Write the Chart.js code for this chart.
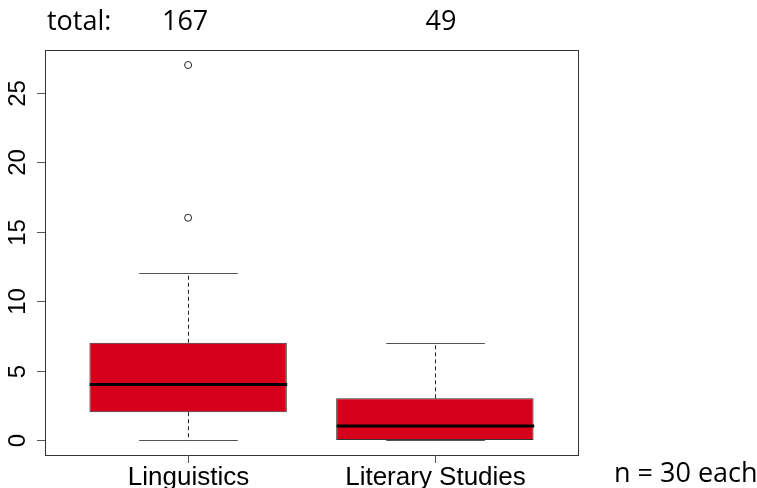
<!DOCTYPE html>
<html>
<head>
<meta charset="utf-8">
<style>
  html, body { margin: 0; padding: 0; background: #fff; }
  #wrap { width: 757px; height: 488px; }
</style>
<script src="https://cdn.jsdelivr.net/npm/chart.js@4.4.0/dist/chart.umd.min.js"></script>
</head>
<body>
<div id="wrap"><canvas id="chart" width="757" height="488"></canvas></div>
<script>
// box plot data, one entry per group
const groups = ['Linguistics', 'Literary Studies'];
const totals = [167, 49];
const whiskerLow = [0, 0];
const q1 = [2, 0];
const median = [4, 1];
const q3 = [7, 3];
const whiskerHigh = [12, 7];
const outliers = [[16, 27], []];
const yTicks = [0, 5, 10, 15, 20, 25];

const boxRed = '#d7001a';
const sansR = '"Liberation Sans", Arial, sans-serif';
const sansTop = '"Open Sans", "Noto Sans", sans-serif';

const boxData = groups.map((g, i) => ({ x: i + 1, y: [q1[i], q3[i]] }));
const outlierData = [];
outliers.forEach((list, i) => list.forEach(v => outlierData.push({ x: i + 1, y: v })));

const boxplotExtras = {
    id: 'boxplotExtras',
    afterDatasetsDraw(chart) {
        const ctx = chart.ctx;
        const xs = chart.scales.x;
        const ys = chart.scales.y;
        const meta = chart.getDatasetMeta(0);
        ctx.save();
        groups.forEach((g, i) => {
            const bar = meta.data[i];
            const cx = Math.round(xs.getPixelForValue(i + 1)) + 0.5;
            const half = bar.width / 2;
            // whiskers (dashed)
            ctx.strokeStyle = '#222';
            ctx.lineWidth = 1;
            ctx.setLineDash([4, 3]);
            ctx.beginPath();
            ctx.moveTo(cx, ys.getPixelForValue(q3[i]));
            ctx.lineTo(cx, ys.getPixelForValue(whiskerHigh[i]));
            ctx.moveTo(cx, ys.getPixelForValue(q1[i]));
            ctx.lineTo(cx, ys.getPixelForValue(whiskerLow[i]));
            ctx.stroke();
            ctx.setLineDash([]);
            // caps
            ctx.strokeStyle = '#555';
            ctx.beginPath();
            [whiskerHigh[i], whiskerLow[i]].forEach(v => {
                const y = Math.round(ys.getPixelForValue(v)) + 0.5;
                ctx.moveTo(cx - half / 2, y);
                ctx.lineTo(cx + half / 2, y);
            });
            ctx.stroke();
            // median
            ctx.strokeStyle = '#000';
            ctx.lineWidth = 3;
            ctx.beginPath();
            const my = ys.getPixelForValue(median[i]);
            ctx.moveTo(cx - half, my);
            ctx.lineTo(cx + half, my);
            ctx.stroke();
        });

        // frame
        const a = chart.chartArea;
        ctx.strokeStyle = '#333';
        ctx.lineWidth = 1;
        ctx.strokeRect(Math.round(a.left) + 0.5, Math.round(a.top) + 0.5,
            Math.round(a.right - a.left), Math.round(a.bottom - a.top));

        // y axis ticks and rotated labels
        ctx.strokeStyle = '#555';
        ctx.fillStyle = '#000';
        ctx.font = '24px ' + sansR;
        ctx.textAlign = 'center';
        ctx.textBaseline = 'alphabetic';
        yTicks.forEach(v => {
            const y = Math.round(ys.getPixelForValue(v)) + 0.5;
            ctx.beginPath();
            ctx.moveTo(a.left - 8, y);
            ctx.lineTo(a.left, y);
            ctx.stroke();
            ctx.save();
            ctx.translate(25, y);
            ctx.rotate(-Math.PI / 2);
            ctx.fillText(String(v), 0, 0);
            ctx.restore();
        });

        // x axis ticks and labels
        ctx.font = '26px ' + sansR;
        groups.forEach((g, i) => {
            const x = Math.round(xs.getPixelForValue(i + 1)) + 0.5;
            ctx.beginPath();
            ctx.moveTo(x, a.bottom);
            ctx.lineTo(x, a.bottom + 8);
            ctx.stroke();
            ctx.fillText(g, x, 485);
        });

        // annotations
        ctx.font = '27px ' + sansTop;
        ctx.textAlign = 'left';
        ctx.fillText('total:', 47, 30);
        ctx.textAlign = 'center';
        totals.forEach((t, i) => {
            ctx.fillText(String(t), xs.getPixelForValue(i + 1) + (i === 0 ? -3 : 6), 30);
        });
        ctx.textAlign = 'left';
        ctx.fillText('n = 30 each', 614, 482);
        ctx.restore();
    }
};

new Chart(document.getElementById('chart'), {
    data: {
        datasets: [
            {
                type: 'bar',
                data: boxData,
                backgroundColor: boxRed,
                borderColor: '#333',
                borderWidth: 1,
                borderSkipped: false,
                barPercentage: 0.8,
                categoryPercentage: 1
            },
            {
                type: 'scatter',
                data: outlierData,
                pointRadius: 3.5,
                pointBackgroundColor: '#fff',
                pointBorderColor: '#222',
                pointBorderWidth: 1
            }
        ]
    },
    options: {
        responsive: false,
        animation: false,
        events: [],
        layout: { padding: { left: 45, right: 179, top: 50, bottom: 33 } },
        plugins: { legend: { display: false }, tooltip: { enabled: false } },
        scales: {
            x: {
                type: 'linear', min: 0.42, max: 2.58, offset: false, display: false,
                ticks: { stepSize: 1, includeBounds: false }
            },
            y: { type: 'linear', min: -1.08, max: 28.08, display: false }
        }
    },
    plugins: [boxplotExtras]
});
</script>
</body>
</html>
